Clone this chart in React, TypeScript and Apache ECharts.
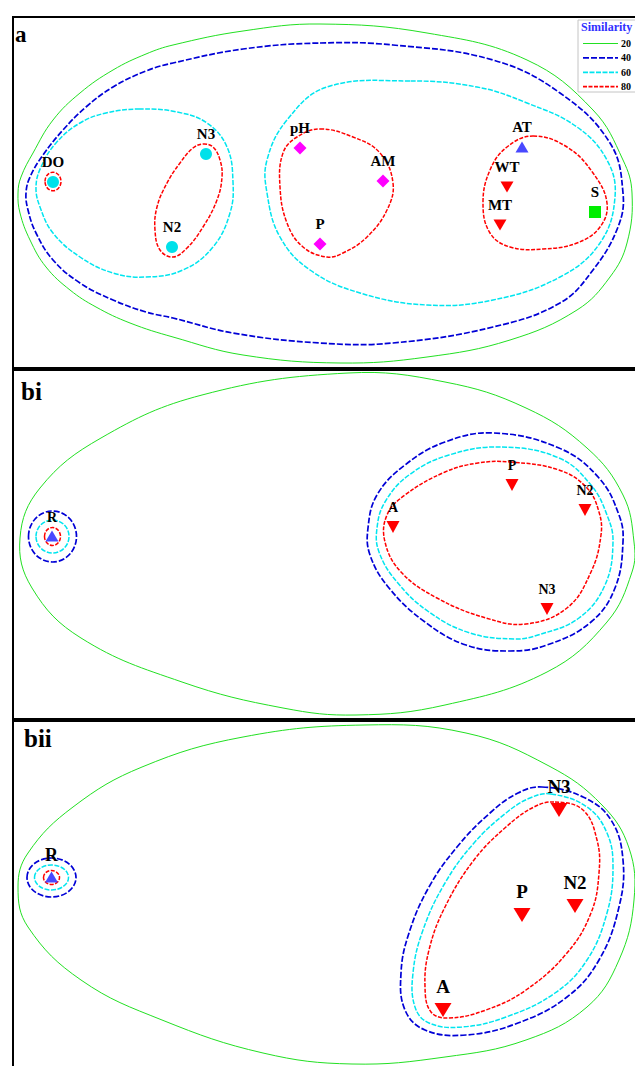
import React, { useEffect, useRef } from 'react';
import * as echarts from 'echarts';

type Pt = [number, number];
type Mark = [string, number, number];
type Ell = [number, number, number, number];
type Shape = { ring?: Pt[]; ell?: Ell };

const FONT = "'Liberation Serif','Times New Roman',Times,serif";

// ---------- Panel extents (ordination units) ----------
const PANEL_W = 622;
const PANEL_A_H = 351;
const PANEL_BI_H = 349;
const PANEL_BII_H = 345;

// ---------- Legend ----------
const LEGEND_TITLE = 'Similarity';
const LEVELS = ['20', '40', '60', '80'];

// ---------- Panel a: variables ----------
const A_CIRCLES: Mark[] = [['DO', 40, 165], ['N3', 193, 137], ['N2', 159, 230]];
const A_DIAMONDS: Mark[] = [['pH', 287, 131], ['AM', 370, 164], ['P', 307, 227]];
const A_UP: Mark[] = [['AT', 509, 130]];
const A_DOWN: Mark[] = [['WT', 494, 170], ['MT', 487, 208]];
const A_SQUARES: Mark[] = [['S', 582, 195]];

const A_RING_20: Pt[] = [[307, 7], [414, 16], [514, 43], [580, 93], [610, 143], [619, 176], [614, 226], [597, 260], [564, 293], [497, 323], [414, 340], [327, 346], [230, 338], [160, 320], [117, 306], [83, 290], [57, 273], [33, 250], [17, 223], [7, 196], [5, 176], [8, 160], [20, 136], [40, 103], [67, 76], [100, 53], [133, 37], [160, 28], [230, 14]];
const A_RING_40: Pt[] = [[307, 26], [380, 28], [480, 43], [547, 76], [597, 126], [610, 176], [605, 210], [580, 253], [547, 286], [480, 310], [380, 326], [307, 326], [220, 316], [160, 301], [133, 295], [100, 283], [67, 266], [40, 243], [23, 216], [15, 193], [13, 176], [17, 160], [30, 138], [50, 113], [73, 90], [100, 70], [133, 54], [160, 46], [230, 32]];
const A_RING_60_LEFT: Pt[] = [[127, 92], [93, 96], [67, 106], [43, 126], [28, 150], [23, 170], [27, 190], [40, 216], [67, 240], [100, 256], [133, 260], [170, 253], [200, 230], [217, 196], [220, 165], [214, 130], [194, 106], [164, 95]];
const A_RING_60_RIGHT: Pt[] = [[397, 64], [314, 70], [274, 103], [254, 143], [254, 176], [267, 220], [297, 253], [347, 276], [414, 288], [480, 283], [547, 260], [587, 226], [602, 180], [594, 143], [564, 110], [514, 86], [464, 70]];
const A_ELL_80_DO: Ell = [40, 164.5, 8, 9.3];
const A_RING_80_N: Pt[] = [[190, 127], [200, 130], [207, 143], [209, 160], [204, 183], [190, 210], [174, 231], [160, 240], [147, 233], [142, 213], [144, 190], [154, 166], [167, 146], [180, 131]];
const A_RING_80_PH: Pt[] = [[307, 112], [340, 120], [367, 136], [380, 166], [374, 193], [354, 220], [330, 236], [314, 240], [290, 230], [274, 206], [267, 170], [270, 136], [284, 120]];
const A_RING_80_AT: Pt[] = [[520, 119], [554, 130], [580, 156], [594, 186], [587, 210], [564, 226], [530, 232], [497, 230], [477, 216], [470, 186], [477, 153], [494, 130]];

// ---------- Panel bi: sites ----------
const BI_REF: Mark[] = [['R', 39, 166]];
const BI_SITES: Mark[] = [['A', 380, 157], ['P', 499, 115], ['N2', 572, 140], ['N3', 534, 239]];

const BI_RING_20: Pt[] = [[335, 3], [189, 25], [88, 68], [27, 118], [7, 168], [19, 218], [68, 268], [169, 312], [270, 338], [343, 345], [432, 335], [534, 302], [594, 252], [619, 202], [621, 172], [610, 125], [574, 78], [513, 38], [432, 12]];
const BI_RING_40: Pt[] = [[481, 63], [546, 78], [586, 108], [606, 145], [610, 172], [602, 218], [578, 252], [534, 275], [497, 281], [453, 275], [412, 252], [376, 218], [357, 185], [355, 158], [364, 125], [392, 95], [432, 72]];
const BI_RING_60: Pt[] = [[489, 77], [546, 88], [578, 115], [594, 145], [600, 172], [592, 215], [566, 248], [525, 265], [501, 269], [457, 263], [416, 242], [384, 212], [366, 182], [364, 158], [372, 132], [396, 105], [436, 85]];
const BI_RING_80: Pt[] = [[497, 92], [546, 100], [574, 118], [586, 142], [588, 165], [578, 202], [554, 238], [513, 254], [473, 248], [424, 228], [388, 202], [372, 172], [374, 145], [392, 125], [432, 102], [465, 93]];
const BI_ELL_40: Ell = [39.5, 166.5, 24, 25.5];
const BI_ELL_60: Ell = [39.5, 166.5, 16.5, 16.5];
const BI_ELL_80: Ell = [39.5, 166.5, 8, 9];

// ---------- Panel bii: sites ----------
const BII_REF: Mark[] = [['R', 38.5, 156]];
const BII_SITES: Mark[] = [['N3', 546, 89], ['P', 509, 194], ['N2', 562, 185], ['A', 430, 289]];

const BII_RING_20: Pt[] = [[351, 4], [230, 16], [129, 46], [60, 86], [15, 132], [5, 166], [15, 206], [68, 259], [149, 299], [250, 332], [339, 343], [432, 336], [513, 319], [574, 286], [606, 239], [621, 179], [616, 127], [589, 84], [536, 45], [453, 12]];
const BII_RING_40: Pt[] = [[529, 66], [570, 76], [598, 99], [610, 139], [606, 186], [586, 239], [554, 276], [505, 302], [453, 314], [412, 309], [392, 289], [388, 252], [396, 212], [416, 166], [444, 126], [477, 92], [505, 72]];
const BII_RING_60: Pt[] = [[538, 73], [574, 86], [594, 112], [600, 146], [594, 192], [574, 239], [542, 272], [493, 296], [449, 306], [416, 302], [402, 286], [400, 252], [410, 209], [432, 162], [461, 122], [493, 92], [517, 77]];
const BII_RING_80: Pt[] = [[542, 81], [570, 89], [584, 119], [586, 152], [578, 192], [554, 232], [513, 269], [473, 289], [436, 297], [418, 291], [412, 266], [416, 229], [432, 186], [461, 139], [493, 106], [521, 86]];
const BII_ELL_40: Ell = [38.5, 156.5, 24.5, 19.5];
const BII_ELL_60: Ell = [38.5, 156.5, 17, 12.5];
const BII_ELL_80: Ell = [38.5, 156.5, 8, 7];

const PANEL_LABELS = ['a', 'bi', 'bii'];

// ---------- styles ----------
const LEVEL_STYLE: Record<string, { color: string; width: number; dash: number[] | null }> = {
  '20': { color: '#22e022', width: 1, dash: null },
  '40': { color: '#0000d6', width: 1.7, dash: [6, 2] },
  '60': { color: '#00e5ef', width: 1.5, dash: [5, 1.5] },
  '80': { color: '#ff0000', width: 1.5, dash: [4, 1.5] },
};

const CONTOURS: Record<string, Shape[]>[] = [
  {
    '20': [{ ring: A_RING_20 }],
    '40': [{ ring: A_RING_40 }],
    '60': [{ ring: A_RING_60_LEFT }, { ring: A_RING_60_RIGHT }],
    '80': [{ ell: A_ELL_80_DO }, { ring: A_RING_80_N }, { ring: A_RING_80_PH }, { ring: A_RING_80_AT }],
  },
  {
    '20': [{ ring: BI_RING_20 }],
    '40': [{ ring: BI_RING_40 }, { ell: BI_ELL_40 }],
    '60': [{ ring: BI_RING_60 }, { ell: BI_ELL_60 }],
    '80': [{ ring: BI_RING_80 }, { ell: BI_ELL_80 }],
  },
  {
    '20': [{ ring: BII_RING_20 }],
    '40': [{ ring: BII_RING_40 }, { ell: BII_ELL_40 }],
    '60': [{ ring: BII_RING_60 }, { ell: BII_ELL_60 }],
    '80': [{ ring: BII_RING_80 }, { ell: BII_ELL_80 }],
  },
];

function contourSeries(gi: number, level: string, shapes: Shape[]) {
  const st = LEVEL_STYLE[level];
  return {
    type: 'custom',
    name: level,
    xAxisIndex: gi,
    yAxisIndex: gi,
    coordinateSystem: 'cartesian2d',
    silent: true,
    clip: false,
    z: 1,
    data: shapes.map((s, i) => (s.ring ? [s.ring[0][0], s.ring[0][1], i] : [s.ell![0], s.ell![1], i])),
    encode: { x: 0, y: 1 },
    renderItem: (params: any, api: any) => {
      const s = shapes[params.dataIndex];
      const style: any = { fill: 'none', stroke: st.color, lineWidth: st.width };
      if (st.dash) style.lineDash = st.dash;
      if (s.ring) {
        const pts = s.ring.map((p) => api.coord(p));
        return { type: 'polygon', shape: { points: pts, smooth: 0.4 }, style };
      }
      const [cx, cy, rx, ry] = s.ell!;
      const c = api.coord([cx, cy]);
      const sz = api.size([rx, ry]);
      return { type: 'ellipse', shape: { cx: c[0], cy: c[1], rx: Math.abs(sz[0]), ry: Math.abs(sz[1]) }, style };
    },
  };
}

function markSeries(gi: number, marks: Mark[], symbol: string, color: string, size: any, rotate: number, fontSize: number, dist: number) {
  return {
    type: 'scatter',
    xAxisIndex: gi,
    yAxisIndex: gi,
    z: 3,
    silent: true,
    clip: false,
    symbol,
    symbolSize: size,
    symbolRotate: rotate,
    itemStyle: { color, opacity: 1 },
    data: marks.map((m) => ({ name: m[0], value: [m[1], m[2]] })),
    label: {
      show: true,
      position: 'top',
      distance: dist,
      formatter: '{b}',
      fontFamily: FONT,
      fontWeight: 'bold',
      fontSize,
      color: '#000',
    },
  };
}

const GRIDS = [
  { top: 17, h: PANEL_A_H },
  { top: 370, h: PANEL_BI_H },
  { top: 721, h: PANEL_BII_H },
];

export default function App() {
  const ref = useRef<HTMLDivElement>(null);
  useEffect(() => {
    if (!ref.current) return;
    const chart = echarts.init(ref.current, undefined, { renderer: 'svg' });
    const series: any[] = [];
    CONTOURS.forEach((panel, gi) => {
      LEVELS.forEach((lv) => series.push(contourSeries(gi, lv, panel[lv])));
    });
    series.push(markSeries(0, A_CIRCLES, 'circle', '#00e1ea', 12, 0, 15, 7));
    series.push(markSeries(0, A_DIAMONDS, 'diamond', '#ff00ff', 13, 0, 15, 6));
    series.push(markSeries(0, A_UP, 'triangle', '#4848ff', [13, 11], 0, 15, 7));
    series.push(markSeries(0, A_DOWN, 'triangle', '#ff0000', [13, 11], 180, 15, 7));
    series.push(markSeries(0, A_SQUARES, 'rect', '#00ee00', 12, 0, 15, 7));
    series.push(markSeries(1, BI_REF, 'triangle', '#4848ff', [13, 11], 0, 14, 6));
    series.push(markSeries(1, BI_SITES, 'triangle', '#ff0000', [13, 12], 180, 14, 7));
    series.push(markSeries(2, BII_REF, 'triangle', '#4848ff', [13, 11], 0, 18, 8));
    series.push(markSeries(2, BII_SITES, 'triangle', '#ff0000', [17, 14], 180, 19, 7.5));

    const frameGraphics: any[] = [
      { type: 'line', shape: { x1: 13, y1: 16, x2: 13, y2: 1066 }, style: { stroke: '#000', lineWidth: 2 }, z: 9 },
    ];
    [17, 368, 370, 719, 721].forEach((y) =>
      frameGraphics.push({ type: 'line', shape: { x1: 12, y1: y, x2: 635, y2: y }, style: { stroke: '#000', lineWidth: 2 }, z: 9 })
    );

    const legendGraphics: any[] = [
      { type: 'rect', shape: { x: 578, y: 20, width: 80, height: 72 }, style: { fill: '#fff', stroke: '#c4c4c4', lineWidth: 1 }, z: 10 },
      { type: 'text', x: 581, y: 27, style: { text: LEGEND_TITLE, font: `bold 12px ${FONT}`, fill: '#3030ff', verticalAlign: 'middle' }, z: 11 },
    ];
    LEVELS.forEach((lv, i) => {
      const st = LEVEL_STYLE[lv];
      const y = 43.5 + i * 14.4;
      legendGraphics.push({
        type: 'line',
        shape: { x1: 583, y1: y, x2: 618, y2: y },
        style: { stroke: st.color, lineWidth: st.width + 0.2, lineDash: st.dash || undefined },
        z: 11,
      });
      legendGraphics.push({
        type: 'text',
        x: 621,
        y,
        style: { text: lv, font: `bold 10px ${FONT}`, fill: '#000', verticalAlign: 'middle' },
        z: 11,
      });
    });

    const letterGraphics = [
      { type: 'text', x: 15, y: 34, style: { text: PANEL_LABELS[0], font: `bold 23px ${FONT}`, fill: '#000', verticalAlign: 'middle' }, z: 10 },
      { type: 'text', x: 21, y: 391, style: { text: PANEL_LABELS[1], font: `bold 25px ${FONT}`, fill: '#000', verticalAlign: 'middle' }, z: 10 },
      { type: 'text', x: 24, y: 738, style: { text: PANEL_LABELS[2], font: `bold 25px ${FONT}`, fill: '#000', verticalAlign: 'middle' }, z: 10 },
    ];

    chart.setOption({
      animation: false,
      backgroundColor: '#fff',
      grid: GRIDS.map((g) => ({
        left: 13,
        top: g.top,
        width: PANEL_W,
        height: g.h,
        show: false,
        containLabel: false,
      })),
      xAxis: GRIDS.map((g, i) => ({ type: 'value', gridIndex: i, min: 0, max: PANEL_W, show: false })),
      yAxis: GRIDS.map((g, i) => ({ type: 'value', gridIndex: i, min: 0, max: g.h, inverse: true, show: false })),
      series,
      graphic: [...frameGraphics, ...letterGraphics, ...legendGraphics],
    });
    return () => chart.dispose();
  }, []);
  return <div ref={ref} style={{ position: 'absolute', left: 0, top: 0, width: 635, height: 1066 }} />;
}
